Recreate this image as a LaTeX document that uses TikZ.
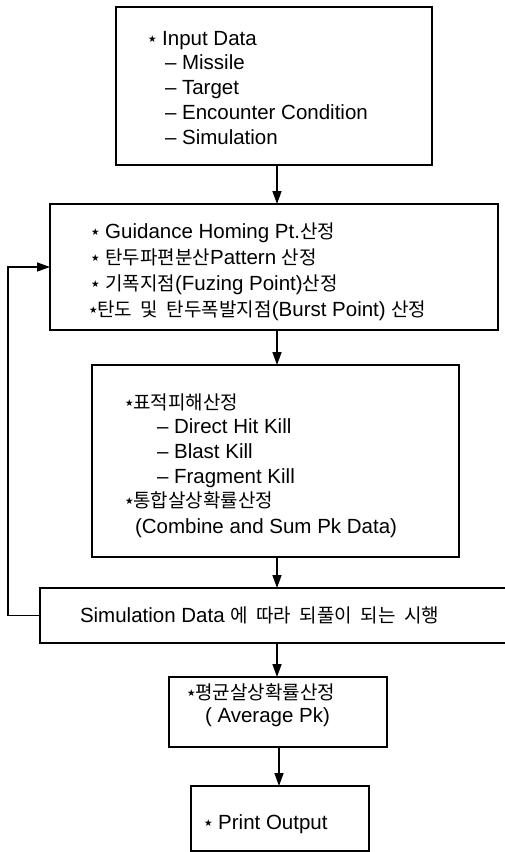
\documentclass[tikz,border=0pt]{standalone}
\usepackage{fontspec}
\setmainfont{Liberation Sans}
\newfontfamily\krfont[WordSpace=2.0]{Noto Sans CJK KR}
\newfontfamily\symfont{DejaVu Sans}
\usetikzlibrary{arrows.meta}
% Korean text and the small bullet star
\newcommand{\K}[1]{{\krfont\fontsize{19}{19}\selectfont #1}}
\newcommand{\st}{\raisebox{2.5pt}{\fontsize{9.5}{9.5}\symfont ★}}
\begin{document}
\begin{tikzpicture}[x=1pt, y=-1pt,
  box/.style={draw, line width=1.7pt, rectangle, inner sep=0pt, outer sep=0pt},
  txt/.style={anchor=base west, inner sep=0pt, outer sep=0pt, font=\fontsize{20.5}{24}\selectfont},
  arr/.style={line width=1.6pt, -{Triangle[length=13pt,width=9pt]}},
  loop/.style={line width=1.4pt, -{Triangle[length=13pt,width=9pt]}}]
\useasboundingbox (0,0) rectangle (505,852);
\clip (0,0) rectangle (505,852);

% boxes
\node[box, minimum width=316pt, minimum height=158pt] (b1) at (274,86) {};
\node[box, minimum width=448pt, minimum height=126pt] (b2) at (274,267) {};
\node[box, minimum width=367pt, minimum height=192pt] (b3) at (275.5,461) {};
\node[box, minimum width=500pt, minimum height=55pt] (b4) at (290,615.5) {};
\node[box, minimum width=218pt, minimum height=70pt] (b5) at (278,712) {};
\node[box, minimum width=178pt, minimum height=65pt] (b6) at (280,818.5) {};

% input data
\node[txt] (t1) at (148,45) {\st\ Input Data};
\node[txt] (t2) at (165,69) {– Missile};
\node[txt] (t3) at (165,94) {– Target};
\node[txt] (t4) at (165,119) {– Encounter Condition};
\node[txt] (t5) at (165,144) {– Simulation};

% guidance / fuzing / burst point
\node[txt] (u1) at (91,238) {\st\ Guidance Homing Pt.\K{산정}};
\node[txt] (u2) at (91,264) {\st\ \K{탄두파편분산}Pattern \K{산정}};
\node[txt] (u3) at (91,290) {\st\ \K{기폭지점}(Fuzing Point)\K{산정}};
\node[txt] (u4) at (89,316) {\st\K{탄도 및 탄두폭발지점}(Burst Point) \K{산정}};

% target damage
\node[txt] (v1) at (125,409) {\st\K{표적피해산정}};
\node[txt] (v2) at (157,433) {– Direct Hit Kill};
\node[txt] (v3) at (157,458) {– Blast Kill};
\node[txt] (v4) at (157,483) {– Fragment Kill};
\node[txt] (v5) at (125,507) {\st\K{통합살상확률산정}};
\node[txt] (v6) at (135,533) {(Combine and Sum Pk Data)};

% repetition
\node[txt] (w1) at (80,622) {Simulation Data \K{에 따라 되풀이 되는 시행}};

% average and output
\node[txt] (x1) at (187,699) {\st\K{평균살상확률산정}};
\node[txt] (x2) at (205,722) {( Average Pk)};
\node[txt] (y1) at (204,829) {\st\ Print Output};

% connectors
\coordinate (ax) at (277,0);
\coordinate (ay) at (279,0);
\coordinate (fb) at (8,0);
\draw[arr] (b1.south -| ax) -- (b2.north -| ax);
\draw[arr] (b2.south -| ax) -- (b3.north -| ax);
\draw[arr] (b3.south -| ax) -- (b4.north -| ax);
\draw[arr] (b4.south -| ax) -- (b5.north -| ax);
\draw[arr] (b5.south -| ay) -- (b6.north -| ay);
\draw[loop] (b4.west) -- (b4.west -| fb) -- (b2.west -| fb) -- (b2.west);
\end{tikzpicture}
\end{document}
